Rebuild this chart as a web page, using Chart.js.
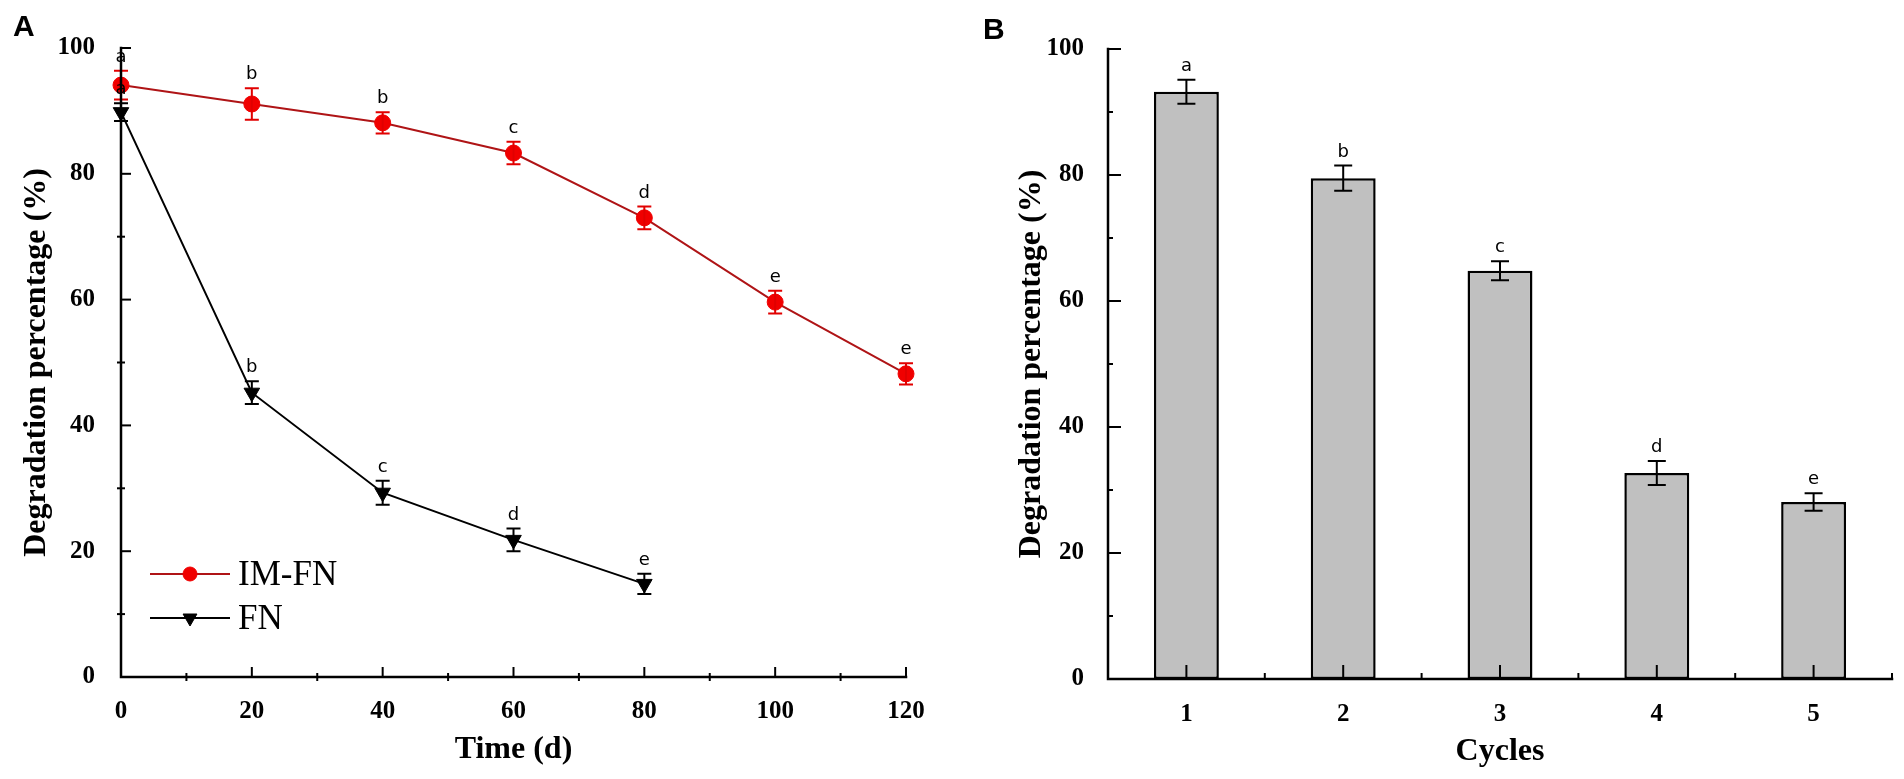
<!DOCTYPE html>
<html>
<head>
<meta charset="utf-8">
<script src="https://cdn.jsdelivr.net/npm/chart.js@4.4.1/dist/chart.umd.min.js"></script>
<style>
  body { margin: 0; background: #fff; }
  #wrap { position: relative; width: 1904px; height: 779px; overflow: hidden; background: #fff; }
  .panel { position: absolute; top: 0; height: 779px; }
  .tag { position: absolute; font: bold 30px 'Liberation Sans', Arial, sans-serif; color: #000; line-height: 34px; }
</style>
</head>
<body>
<div id="wrap">
  <div class="panel" style="left:0;width:950px"><canvas id="chartA" width="950" height="779"></canvas></div>
  <div class="panel" style="left:950px;width:954px"><canvas id="chartB" width="954" height="779"></canvas></div>
  <div class="tag" style="left:13px;top:9px">A</div>
  <div class="tag" style="left:983px;top:12px">B</div>
</div>
<script>
// panel A: degradation over time
const days = [0, 20, 40, 60, 80, 100, 120];
const imfnValues = [94.1, 91.1, 88.1, 83.3, 73.0, 59.6, 48.2];
const imfnErrors = [2.3, 2.5, 1.7, 1.8, 1.8, 1.8, 1.7];
const imfnLetters = ['a', 'b', 'b', 'c', 'd', 'e', 'e'];

const fnDays = [0, 20, 40, 60, 80];
const fnValues = [89.8, 45.2, 29.3, 21.8, 14.8];
const fnErrors = [1.4, 1.8, 1.9, 1.8, 1.6];
const fnLetters = ['a', 'b', 'c', 'd', 'e'];

const timeTicks = [0, 20, 40, 60, 80, 100, 120];
const timeMinor = [10, 30, 50, 70, 90, 110];

// panel B: reuse cycles
const cycles = ['1', '2', '3', '4', '5'];
const cycleValues = [93.2, 79.5, 64.8, 32.7, 28.1];
const cycleErrors = [1.9, 2.0, 1.5, 1.9, 1.4];
const cycleLetters = ['a', 'b', 'c', 'd', 'e'];

const percentTicks = [0, 20, 40, 60, 80, 100];
const percentMinor = [10, 30, 50, 70, 90];

const serif = "'Liberation Serif', 'Times New Roman', serif";
const tickFont = {family: serif, size: 25, weight: 'bold'};
const titleFont = {family: serif, size: 32, weight: 'bold'};

// axis lines with inward ticks, like the original plot
const axisFrame = {
  id: 'axisFrame',
  afterDraw(chart, args, o) {
    const {ctx, chartArea: a} = chart;
    const xs = chart.scales.x, ys = chart.scales.y;
    ctx.save();
    ctx.strokeStyle = '#000';
    ctx.lineWidth = 2.5;
    ctx.lineCap = 'square';
    ctx.beginPath();
    ctx.moveTo(a.left, ys.getPixelForValue(ys.max));
    ctx.lineTo(a.left, a.bottom);
    ctx.lineTo(a.right, a.bottom);
    ctx.stroke();
    ctx.lineCap = 'butt';
    ctx.lineWidth = 2;
    o.yMajor.forEach(v => {
      const p = ys.getPixelForValue(v);
      ctx.beginPath(); ctx.moveTo(a.left, p); ctx.lineTo(a.left + o.yMajorLen, p); ctx.stroke();
    });
    o.yMinor.forEach(v => {
      const p = ys.getPixelForValue(v);
      ctx.beginPath(); ctx.moveTo(a.left - o.minorOut, p); ctx.lineTo(a.left + o.yMinorLen, p); ctx.stroke();
    });
    o.xMajor.forEach(v => {
      const p = xs.getPixelForValue(v);
      ctx.beginPath(); ctx.moveTo(p, a.bottom); ctx.lineTo(p, a.bottom - o.xMajorLen); ctx.stroke();
    });
    o.xMinor.forEach(v => {
      const p = xs.getPixelForValue(v);
      ctx.beginPath(); ctx.moveTo(p, a.bottom + o.minorOut); ctx.lineTo(p, a.bottom - o.xMinorLen); ctx.stroke();
    });
    ctx.restore();
  }
};

// error bars and significance letters
const errorBars = {
  id: 'errorBars',
  afterDatasetsDraw(chart) {
    const {ctx} = chart;
    const ys = chart.scales.y;
    chart.data.datasets.forEach((ds, di) => {
      const meta = chart.getDatasetMeta(di);
      meta.data.forEach((el, i) => {
        const raw = ds.data[i];
        const v = typeof raw === 'object' ? raw.y : raw;
        const e = ds.errors[i];
        const top = ys.getPixelForValue(v + e);
        const bot = ys.getPixelForValue(v - e);
        const x = el.x, c = ds.capWidth / 2;
        ctx.save();
        ctx.strokeStyle = ds.errorColor;
        ctx.lineWidth = 2;
        ctx.beginPath();
        ctx.moveTo(x, top); ctx.lineTo(x, bot);
        ctx.moveTo(x - c, top); ctx.lineTo(x + c, top);
        ctx.moveTo(x - c, bot); ctx.lineTo(x + c, bot);
        ctx.stroke();
        ctx.fillStyle = '#000';
        ctx.font = "18px 'DejaVu Sans', sans-serif";
        ctx.textAlign = 'center';
        ctx.textBaseline = 'alphabetic';
        ctx.fillText(ds.letters[i], x, top - 9);
        ctx.restore();
      });
    });
  }
};

// legend inside plot A: line with marker, then label
const legendA = {
  id: 'legendA',
  afterDraw(chart) {
    const {ctx, chartArea: a} = chart;
    chart.data.datasets.forEach((ds, i) => {
      const y = 574 + i * 44;
      const x0 = a.left + 29, x1 = a.left + 109;
      ctx.save();
      ctx.strokeStyle = ds.borderColor;
      ctx.lineWidth = 2;
      ctx.beginPath(); ctx.moveTo(x0, y); ctx.lineTo(x1, y); ctx.stroke();
      ctx.fillStyle = ds.pointBackgroundColor;
      ctx.strokeStyle = ds.pointBorderColor;
      ctx.lineWidth = 1;
      Chart.helpers.drawPoint(ctx, {
        pointStyle: ds.pointStyle, radius: ds.pointRadius - 1,
        rotation: ds.pointRotation || 0, borderWidth: 1
      }, (x0 + x1) / 2, y);
      ctx.fillStyle = '#000';
      ctx.font = '35px ' + serif;
      ctx.textAlign = 'left';
      ctx.textBaseline = 'middle';
      ctx.fillText(ds.label, a.left + 117, y + 2);
      ctx.restore();
    });
  }
};

new Chart(document.getElementById('chartA'), {
  type: 'line',
  data: {
    datasets: [
      {
        label: 'IM-FN',
        data: days.map((d, i) => ({x: d, y: imfnValues[i]})),
        errors: imfnErrors, letters: imfnLetters,
        borderColor: 'rgb(175,20,22)', borderWidth: 2,
        pointStyle: 'circle', pointRadius: 8,
        pointBackgroundColor: 'rgb(240,0,0)', pointBorderColor: 'rgb(240,0,0)', pointBorderWidth: 1,
        errorColor: 'rgb(225,0,0)', capWidth: 14,
        tension: 0, clip: false
      },
      {
        label: 'FN',
        data: fnDays.map((d, i) => ({x: d, y: fnValues[i]})),
        errors: fnErrors, letters: fnLetters,
        borderColor: '#000', borderWidth: 2,
        pointStyle: 'triangle', pointRotation: 180, pointRadius: 9,
        pointBackgroundColor: '#000', pointBorderColor: '#000', pointBorderWidth: 1,
        errorColor: '#000', capWidth: 14,
        tension: 0, clip: false
      }
    ]
  },
  options: {
    responsive: false,
    animation: false,
    layout: {padding: {top: 48, right: 44, left: 0, bottom: 0}},
    plugins: {
      legend: {display: false},
      tooltip: {enabled: false},
      axisFrame: {
        yMajor: percentTicks, yMinor: percentMinor, xMajor: timeTicks, xMinor: timeMinor,
        yMajorLen: 10, yMinorLen: 4, xMajorLen: 10, xMinorLen: 4, minorOut: 4
      }
    },
    scales: {
      x: {
        type: 'linear', min: 0, max: 120,
        afterFit(s) { s.height = 102; },
        afterBuildTicks(s) { s.ticks = timeTicks.map(v => ({value: v})); },
        grid: {display: false}, border: {display: false},
        ticks: {padding: 12, font: tickFont, color: '#000', maxRotation: 0},
        title: {display: true, text: 'Time (d)', font: titleFont, color: '#000', padding: {top: 0, bottom: 10}}
      },
      y: {
        min: 0, max: 100,
        afterFit(s) { s.width = 121; },
        afterBuildTicks(s) { s.ticks = percentTicks.map(v => ({value: v})); },
        grid: {display: false}, border: {display: false},
        ticks: {padding: 18, font: tickFont, color: '#000'},
        title: {display: true, text: 'Degradation percentage (%)', font: titleFont, color: '#000', padding: {top: 18, bottom: 0}}
      }
    }
  },
  plugins: [axisFrame, errorBars, legendA]
});

new Chart(document.getElementById('chartB'), {
  type: 'bar',
  data: {
    labels: cycles,
    datasets: [{
      label: 'Degradation',
      data: cycleValues,
      errors: cycleErrors, letters: cycleLetters,
      backgroundColor: 'rgb(192,192,192)',
      borderColor: '#000', borderWidth: 2.5, borderSkipped: false,
      barPercentage: 0.414, categoryPercentage: 1,
      errorColor: '#000', capWidth: 18
    }]
  },
  options: {
    responsive: false,
    animation: false,
    layout: {padding: {top: 49, right: 12, left: 0, bottom: 0}},
    plugins: {
      legend: {display: false},
      tooltip: {enabled: false},
      axisFrame: {
        yMajor: percentTicks, yMinor: percentMinor,
        xMajor: [0, 1, 2, 3, 4], xMinor: [0.5, 1.5, 2.5, 3.5, 4.5],
        yMajorLen: 13, yMinorLen: 5, xMajorLen: 14, xMinorLen: 6, minorOut: 0
      }
    },
    scales: {
      x: {
        afterFit(s) { s.height = 100; },
        grid: {display: false}, border: {display: false},
        ticks: {padding: 13, font: tickFont, color: '#000', maxRotation: 0},
        title: {display: true, text: 'Cycles', font: titleFont, color: '#000', padding: {top: 0, bottom: 8}}
      },
      y: {
        min: 0, max: 100,
        afterFit(s) { s.width = 158; },
        afterBuildTicks(s) { s.ticks = percentTicks.map(v => ({value: v})); },
        grid: {display: false}, border: {display: false},
        ticks: {padding: 16, font: tickFont, color: '#000'},
        title: {display: true, text: 'Degradation percentage (%)', font: titleFont, color: '#000', padding: {top: 63, bottom: 0}}
      }
    }
  },
  plugins: [axisFrame, errorBars]
});
</script>
</body>
</html>
